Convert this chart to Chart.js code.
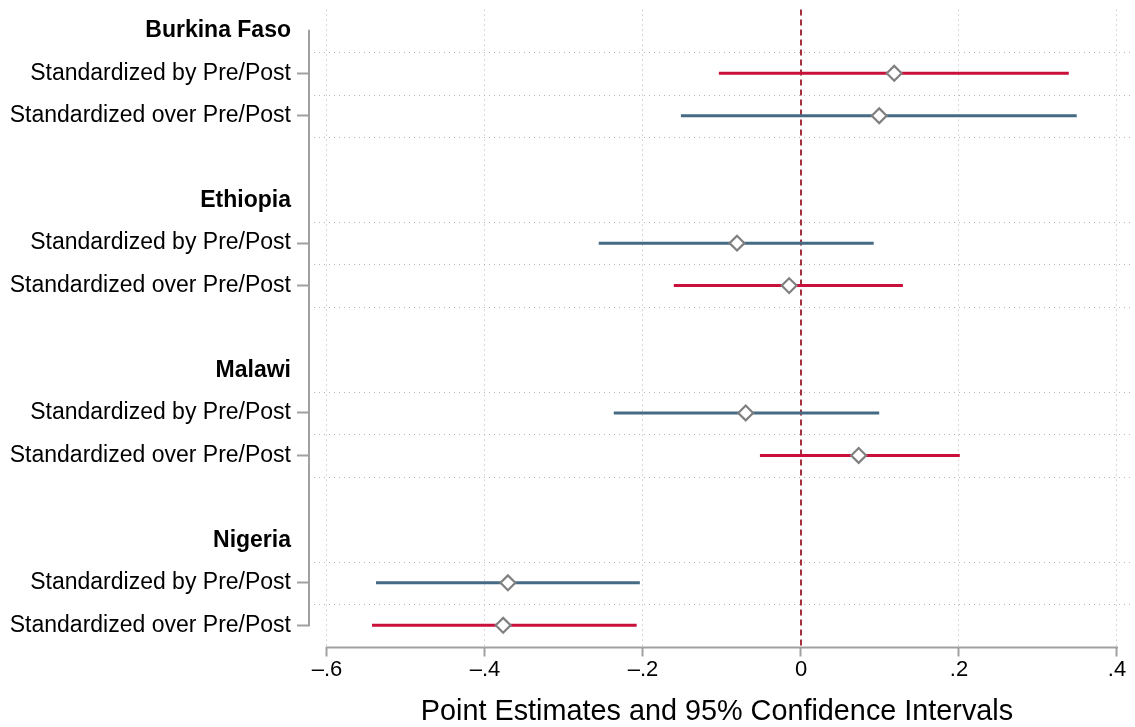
<!DOCTYPE html>
<html><head><meta charset="utf-8">
<script src="https://cdn.jsdelivr.net/npm/chart.js@4"></script>
<style>html,body{margin:0;padding:0;background:#fff}#wrap{width:1135px;height:727px}</style>
</head><body><div id="wrap"><canvas id="c" width="1135" height="727"></canvas></div>
<script>
// ---------- data ----------
const countries = ['Burkina Faso', 'Ethiopia', 'Malawi', 'Nigeria'];
const methods = ['Standardized by Pre/Post', 'Standardized over Pre/Post'];
const estBy   = [0.118, -0.081, -0.070, -0.371];
const loBy    = [-0.104, -0.256, -0.237, -0.538];
const hiBy    = [0.339, 0.092, 0.099, -0.204];
const estOver = [0.099, -0.015, 0.073, -0.377];
const loOver  = [-0.152, -0.161, -0.052, -0.543];
const hiOver  = [0.349, 0.129, 0.201, -0.208];
const xTickValues = [-0.6, -0.4, -0.2, 0, 0.2, 0.4];
const xTickLabels = ['\u2013.6', '\u2013.4', '\u2013.2', '0', '.2', '.4'];
const xTitle = 'Point Estimates and 95% Confidence Intervals';
// which colour each interval uses (r = red, b = blue)
const colorKeyBy   = ['r', 'b', 'b', 'b'];
const colorKeyOver = ['b', 'r', 'r', 'r'];

// ---------- styles ----------
const COLORS = { r: '#c8103a', b: '#456a84' };
const GRID = '#b4b4b4';
const AXIS = '#a0a0a0';
const ZERO = '#a3303c';
const MARKER = '#808080';
Chart.defaults.font.family = "'Liberation Sans', Arial, Helvetica, sans-serif";
Chart.defaults.color = '#000';

// ---------- build rows ----------
const ROWS_PER_GROUP = 4;
const rowLabels = [];
const rowType = [];
countries.forEach(c => {
  rowLabels.push(c, methods[0], methods[1], '');
  rowType.push('head', 'coef', 'coef', 'blank');
});
const lastRow = countries.length * ROWS_PER_GROUP - 2;

const datasets = [];
const markerPts = [];
countries.forEach((c, g) => {
  const series = [
    { est: estBy[g], lo: loBy[g], hi: hiBy[g], col: colorKeyBy[g] },
    { est: estOver[g], lo: loOver[g], hi: hiOver[g], col: colorKeyOver[g] }
  ];
  series.forEach((s, m) => {
    const row = g * ROWS_PER_GROUP + 1 + m;
    datasets.push({
      type: 'scatter', showLine: true, order: 2,
      data: [{ x: s.lo, y: row }, { x: s.hi, y: row }],
      borderColor: COLORS[s.col], borderWidth: 3, pointRadius: 0, borderCapStyle: 'butt'
    });
    markerPts.push({ x: s.est, y: row });
  });
});
datasets.push({
  type: 'scatter', order: 0, data: markerPts,
  pointStyle: 'rectRot', pointRadius: 7.4, pointBorderWidth: 2.2,
  pointBackgroundColor: '#ffffff', pointBorderColor: MARKER
});

const decor = {
  id: 'decor',
  beforeDatasetsDraw(chart) {
    const { ctx, chartArea: a, scales: { x, y } } = chart;
    ctx.save();
    // dotted horizontal grid lines between coefficient rows
    ctx.strokeStyle = GRID; ctx.lineWidth = 1; ctx.setLineDash([1, 4]);
    countries.forEach((c, g) => {
      for (let k = 0; k < 3; k++) {
        const v = g * ROWS_PER_GROUP + 0.5 + k;
        if (v >= y.max) continue;
        const py = Math.round(y.getPixelForValue(v)) + 0.5;
        ctx.beginPath(); ctx.moveTo(a.left + 5, py); ctx.lineTo(a.right + 7, py); ctx.stroke();
      }
    });
    // zero reference line
    const zx = x.getPixelForValue(0);
    ctx.strokeStyle = ZERO; ctx.lineWidth = 2; ctx.setLineDash([6, 4]);
    ctx.beginPath(); ctx.moveTo(zx, a.top); ctx.lineTo(zx, a.bottom); ctx.stroke();
    // axis lines
    ctx.setLineDash([]);
    ctx.strokeStyle = AXIS; ctx.lineWidth = 2;
    ctx.beginPath();
    ctx.moveTo(a.left, y.getPixelForValue(0) - 1); ctx.lineTo(a.left, y.getPixelForValue(lastRow) + 1);
    ctx.stroke();
    ctx.beginPath();
    ctx.moveTo(x.getPixelForValue(xTickValues[0]) - 1, a.bottom + 1);
    ctx.lineTo(x.getPixelForValue(xTickValues[xTickValues.length - 1]) + 1, a.bottom + 1);
    ctx.stroke();
    ctx.restore();
  }
};

new Chart(document.getElementById('c'), {
  type: 'scatter',
  data: { datasets },
  plugins: [decor],
  options: {
    responsive: false, animation: false, events: [],
    layout: { padding: { left: 0, right: 10, top: 6, bottom: 0 } },
    plugins: { legend: { display: false }, tooltip: { enabled: false } },
    scales: {
      x: {
        type: 'linear', min: -0.62278, max: 0.41013,
        afterBuildTicks: s => { s.ticks = xTickValues.map(v => ({ value: v })); },
        afterFit: s => { s.height = 80.5; },
        ticks: {
          autoSkip: false, maxRotation: 0, padding: 0,
          font: { size: 22 }, color: '#000',
          callback: (v, i) => xTickLabels[i]
        },
        grid: {
          drawOnChartArea: true, drawTicks: true, tickLength: 10,
          color: ctx => (ctx.tick && ctx.tick.value === 0) ? 'rgba(0,0,0,0)' : GRID,
          lineWidth: 1, tickColor: AXIS, tickWidth: 2, tickBorderDash: []
        },
        border: { display: false, dash: [1, 4] },
        title: { display: true, text: xTitle, font: { size: 28.8 }, color: '#000', padding: { top: 0, bottom: -2 } }
      },
      y: {
        type: 'linear', reverse: true, min: -0.5, max: 14.5,
        afterBuildTicks: s => { s.ticks = rowLabels.slice(0, lastRow + 1).map((l, i) => ({ value: i })); },
        afterFit: s => { s.width = 309; s.paddingTop = 0; s.paddingBottom = 0; },
        ticks: {
          autoSkip: false, padding: 6, color: '#000',
          font: ctx => ({ size: 23, weight: rowType[ctx.index] === 'head' ? 'bold' : 'normal' }),
          callback: (v, i) => rowLabels[i]
        },
        grid: {
          drawOnChartArea: false, drawTicks: true, tickLength: 12,
          tickColor: ctx => rowType[ctx.index] === 'coef' ? AXIS : 'rgba(0,0,0,0)',
          tickWidth: 2
        },
        border: { display: false }
      }
    }
  }
});
</script>
</body></html>
